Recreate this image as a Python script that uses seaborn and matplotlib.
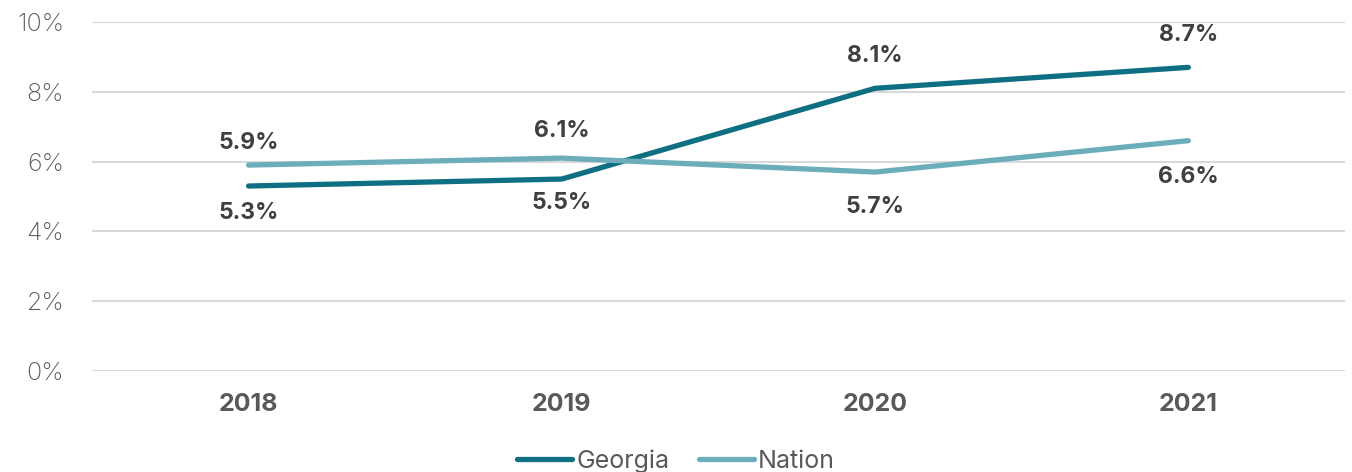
import matplotlib
matplotlib.use("Agg")
import matplotlib.pyplot as plt
import seaborn as sns
import pandas as pd

years = ["2018", "2019", "2020", "2021"]
georgia = [5.3, 5.5, 8.1, 8.7]
nation = [5.9, 6.1, 5.7, 6.6]
series_names = ["Georgia", "Nation"]
colors = {"Georgia": "#0f6f82", "Nation": "#6badbb"}
# vertical label offsets in points (positive above the line, negative below)
georgia_label_dy = [-19.5, -17.5, 23, 23]
nation_label_dy = [16, 19.5, -25, -26]

sns.set_theme(style="white")
plt.rcParams["font.family"] = ["Inter", "DejaVu Sans"]

df = pd.DataFrame({
    "Year": years * 2,
    "idx": list(range(len(years))) * 2,
    "Value": georgia + nation,
    "Series": ["Georgia"] * len(years) + ["Nation"] * len(years),
})

fig = plt.figure(figsize=(13.52, 4.72), dpi=100)
ax = fig.add_axes([0.068, 0.214, 0.9268, 0.7394])

sns.lineplot(data=df, x="idx", y="Value", hue="Series", hue_order=series_names,
             palette=colors, linewidth=3.8, ax=ax, legend=False,
             solid_capstyle="round")

ax.set_xlim(-0.5, len(years) - 0.5)
ax.set_ylim(0, 10)
ax.set_yticks(range(0, 11, 2))
ax.set_yticklabels([f"{v}%" for v in range(0, 11, 2)], fontsize=18,
                   color="#595959", fontweight="light")
ax.set_xticks(range(len(years)))
ax.set_xticklabels(years, fontsize=18, fontweight="bold", color="#595959")
ax.tick_params(axis="both", length=0)
ax.tick_params(axis="x", pad=16)
ax.tick_params(axis="y", pad=20)
ax.set_xlabel("")
ax.set_ylabel("")
ax.grid(axis="y", color="#d9d9d9", linewidth=1.5)
ax.set_axisbelow(True)
for s in ax.spines.values():
    s.set_visible(False)

for vals, dys in ((georgia, georgia_label_dy), (nation, nation_label_dy)):
    for i, (v, dy) in enumerate(zip(vals, dys)):
        ax.annotate(f"{v:.1f}%", (i, v), xytext=(0, dy),
                    textcoords="offset points", ha="center", va="center",
                    fontsize=16.5, fontweight="bold", color="#404040")

handles = [plt.Line2D([], [], color=colors[n], linewidth=3.8,
                      solid_capstyle="round") for n in series_names]
fig.legend(handles, series_names, loc="lower center", ncol=2, frameon=False,
           bbox_to_anchor=(0.5, -0.05), fontsize=18, handlelength=2.2,
           handletextpad=0.15, columnspacing=1.2, labelcolor="#595959")

fig.savefig("out.png", dpi=100)
